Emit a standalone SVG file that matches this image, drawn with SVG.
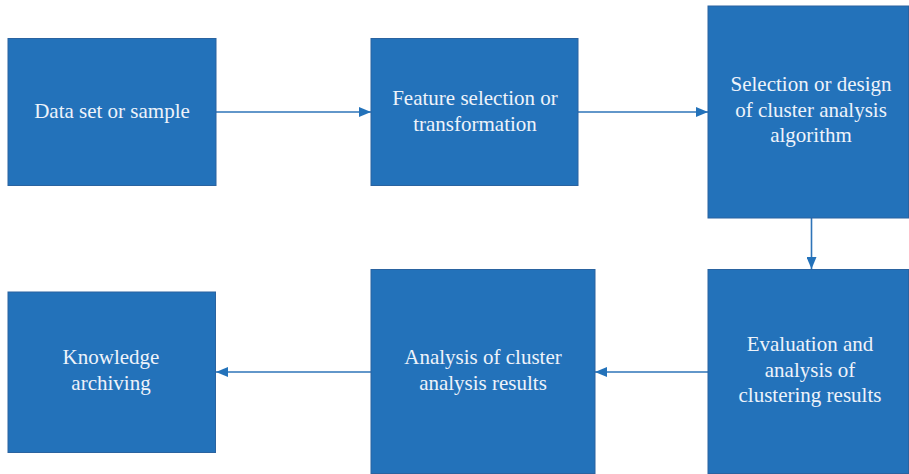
<svg xmlns="http://www.w3.org/2000/svg" width="909" height="474" viewBox="0 0 909 474">
<style>
.box{fill:#2372BA;stroke:#2A63A0;stroke-width:1}
.lbl{font-size:21px;fill:#EEF3FA;text-anchor:middle}
.con{stroke:#2E74B8;stroke-width:1.6;fill:none}
</style>
<defs>
<marker id="ah" viewBox="0 0 12 10" refX="12" refY="5" markerWidth="12" markerHeight="10" markerUnits="userSpaceOnUse" orient="auto">
<path d="M0,0 L12,5 L0,10 Z" fill="#2372BA"/>
</marker>
</defs>
<rect width="909" height="474" fill="#ffffff"/>
<g id="connectors">
<line class="con" x1="216" y1="112" x2="371" y2="112" marker-end="url(#ah)"/>
<line class="con" x1="578" y1="112" x2="708" y2="112" marker-end="url(#ah)"/>
<line class="con" x1="811.5" y1="218" x2="811.5" y2="269" stroke-width="2" marker-end="url(#ah)"/>
<line class="con" x1="708" y1="372" x2="595" y2="372" marker-end="url(#ah)"/>
<line class="con" x1="371" y1="372" x2="216" y2="372" marker-end="url(#ah)"/>
</g>
<g font-family="Liberation Serif, Times New Roman, serif">
<g id="n1">
<rect class="box" x="8" y="38.5" width="208" height="147"/>
<text class="lbl" x="112" y="118">Data set or sample</text>
</g>
<g id="n2">
<rect class="box" x="371" y="38.5" width="207" height="147"/>
<text class="lbl" x="475" y="105">Feature selection or</text>
<text class="lbl" x="475" y="130.5">transformation</text>
</g>
<g id="n3">
<rect class="box" x="708" y="6" width="200.5" height="212"/>
<text class="lbl" x="811" y="91">Selection or design</text>
<text class="lbl" x="811" y="116.5">of cluster analysis</text>
<text class="lbl" x="811" y="142">algorithm</text>
</g>
<g id="n4">
<rect class="box" x="708" y="269.5" width="200.5" height="204"/>
<text class="lbl" x="810" y="351">Evaluation and</text>
<text class="lbl" x="810" y="376.5">analysis of</text>
<text class="lbl" x="810" y="402">clustering results</text>
</g>
<g id="n5">
<rect class="box" x="371" y="269.5" width="224" height="204"/>
<text class="lbl" x="483" y="364">Analysis of cluster</text>
<text class="lbl" x="483" y="389.5">analysis results</text>
</g>
<g id="n6">
<rect class="box" x="8" y="292" width="207.5" height="160.5"/>
<text class="lbl" x="111" y="364">Knowledge</text>
<text class="lbl" x="111" y="389.5">archiving</text>
</g>
</g>
</svg>
